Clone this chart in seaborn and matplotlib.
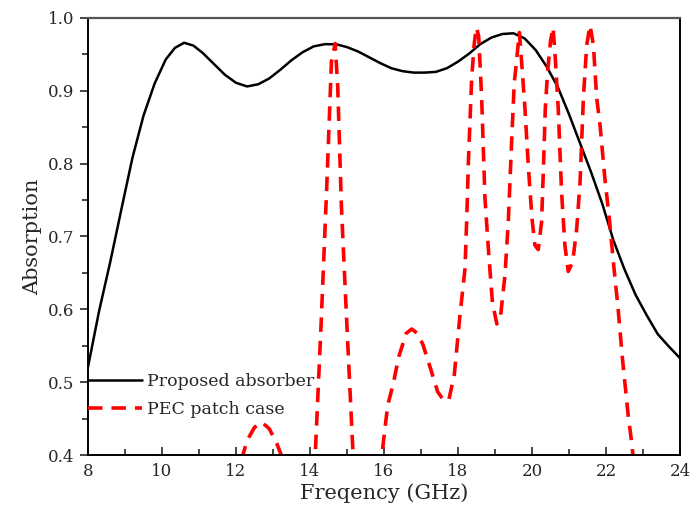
import numpy as np
import pandas as pd
import matplotlib
matplotlib.use('Agg')
import matplotlib.pyplot as plt
from matplotlib.ticker import MultipleLocator
import seaborn as sns

# Proposed absorber (black solid)
freq_prop = [8.0, 8.3, 8.6, 8.9, 9.2, 9.5, 9.8, 10.1, 10.35, 10.6, 10.85, 11.1,
             11.4, 11.7, 12.0, 12.3, 12.6, 12.9, 13.2, 13.5, 13.8, 14.1, 14.4,
             14.7, 15.0, 15.3, 15.6, 15.9, 16.2, 16.5, 16.8, 17.1, 17.4, 17.7,
             18.0, 18.3, 18.6, 18.9, 19.2, 19.5, 19.8, 20.1, 20.4, 20.7, 21.0,
             21.3, 21.6, 21.9, 22.2, 22.5, 22.8, 23.1, 23.4, 23.7, 24.0]
abs_prop = [0.521, 0.598, 0.665, 0.737, 0.808, 0.866, 0.910, 0.943, 0.959, 0.966,
            0.962, 0.952, 0.937, 0.922, 0.911, 0.906, 0.909, 0.917, 0.929,
            0.942, 0.953, 0.961, 0.964, 0.964, 0.96, 0.954, 0.946, 0.938,
            0.931, 0.927, 0.925, 0.925, 0.926, 0.931, 0.94, 0.951, 0.964,
            0.973, 0.978, 0.979, 0.972, 0.956, 0.933, 0.905, 0.868, 0.828,
            0.788, 0.745, 0.695, 0.655, 0.62, 0.592, 0.566, 0.549, 0.533]

# PEC patch case (red dashed)
freq_pec = [11.9, 12.1, 12.3, 12.5, 12.7, 12.9, 13.1, 13.3, 13.6, 13.9, 14.05,
            14.15, 14.3, 14.45, 14.58, 14.68, 14.75, 14.85, 15.0, 15.16, 15.35,
            15.7, 15.9, 16.0, 16.1, 16.25, 16.4, 16.6, 16.75, 16.9, 17.05, 17.25,
            17.45, 17.6, 17.75, 17.9, 18.05, 18.19, 18.24, 18.28, 18.37, 18.44,
            18.5, 18.56, 18.64, 18.73, 18.82, 18.93, 19.05, 19.15, 19.27, 19.36,
            19.45, 19.52, 19.6, 19.66, 19.72, 19.81, 19.9, 20.0, 20.08, 20.17,
            20.26, 20.31, 20.36, 20.42, 20.5, 20.57, 20.63, 20.71, 20.8, 20.89,
            20.98, 21.1, 21.21, 21.3, 21.39, 21.48, 21.57, 21.66, 21.75, 21.84,
            21.97, 22.1, 22.2, 22.33, 22.45, 22.6, 22.7, 22.85, 23.0]
abs_pec = [0.33, 0.385, 0.42, 0.438, 0.445, 0.436, 0.416, 0.39, 0.33, 0.3, 0.35,
           0.41, 0.58, 0.765, 0.94, 0.965, 0.905, 0.74, 0.575, 0.405, 0.3,
           0.3, 0.38, 0.425, 0.468, 0.498, 0.535, 0.567, 0.573, 0.567, 0.552,
           0.52, 0.487, 0.476, 0.475, 0.51, 0.59, 0.656, 0.729, 0.8, 0.917,
           0.965, 0.987, 0.975, 0.89, 0.752, 0.684, 0.61, 0.58, 0.59, 0.647,
           0.72, 0.83, 0.91, 0.95, 0.98, 0.94, 0.876, 0.798, 0.725, 0.688,
           0.682, 0.72, 0.794, 0.875, 0.925, 0.968, 0.987, 0.945, 0.876, 0.761,
           0.688, 0.652, 0.665, 0.711, 0.775, 0.89, 0.963, 0.99, 0.963, 0.89,
           0.853, 0.78, 0.72, 0.665, 0.6, 0.53, 0.455, 0.415, 0.33, 0.28]

sns.set_theme(style='ticks')
plt.rcParams['font.family'] = ['DejaVu Serif']

fig = plt.figure(figsize=(6.91, 5.18), dpi=100)
ax = fig.add_axes([0.1274, 0.1216, 0.8566, 0.8437])

df_prop = pd.DataFrame({'f': freq_prop, 'a': abs_prop})
df_pec = pd.DataFrame({'f': freq_pec, 'a': abs_pec})

sns.lineplot(data=df_prop, x='f', y='a', color='black', linewidth=1.8,
             estimator=None, label='Proposed absorber', ax=ax)
sns.lineplot(data=df_pec, x='f', y='a', color='red', linewidth=2.6,
             estimator=None, label='PEC patch case', ax=ax)
ax.lines[1].set_dashes([4, 2.5])

ax.set_xlim(8, 24)
ax.set_ylim(0.4, 1.0)
ax.xaxis.set_major_locator(MultipleLocator(2))
ax.xaxis.set_minor_locator(MultipleLocator(1))
ax.yaxis.set_major_locator(MultipleLocator(0.1))
ax.yaxis.set_minor_locator(MultipleLocator(0.05))
ax.yaxis.set_major_formatter(matplotlib.ticker.FormatStrFormatter('%.1f'))

ax.tick_params(axis='x', which='major', direction='in', length=6, width=1.2,
               labelsize=12, pad=6)
ax.tick_params(axis='x', which='minor', direction='in', length=4, width=1.2)
ax.tick_params(axis='y', which='major', direction='out', length=6, width=1.2,
               labelsize=12, pad=4)
ax.tick_params(axis='y', which='minor', direction='out', length=4, width=1.2)

for s in ['left', 'bottom', 'right']:
    ax.spines[s].set_color('black')
    ax.spines[s].set_linewidth(1.4)
ax.spines['top'].set_color('#555555')
ax.spines['top'].set_linewidth(1.6)

ax.set_xlabel('Freqency (GHz)', fontsize=15, labelpad=2)
ax.set_ylabel('Absorption', fontsize=15, labelpad=4)

ax.legend(loc='center left', bbox_to_anchor=(0.0, 0.136), frameon=False,
          fontsize=12.5, handlelength=3.1, handletextpad=0.3, labelspacing=0.62,
          borderpad=0, borderaxespad=0)

fig.savefig('out.png', dpi=100)
